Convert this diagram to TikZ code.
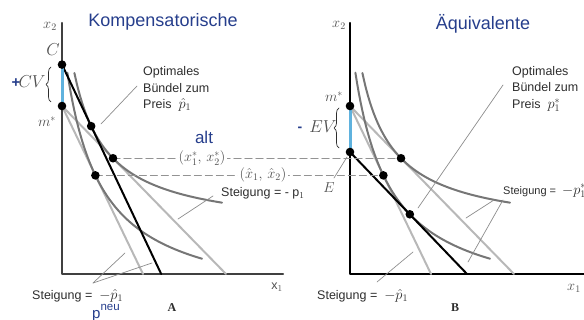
\documentclass[tikz,border=0pt]{standalone}
\usepackage[no-math]{fontspec}
\setmainfont{Liberation Sans}
\newfontfamily\panelfont{Liberation Serif}
\usetikzlibrary{decorations.pathreplacing}

\definecolor{titleblue}{RGB}{38,62,140}
\definecolor{cvblue}{RGB}{95,178,222}
\definecolor{icgray}{RGB}{118,118,118}
\definecolor{bgray}{RGB}{184,184,184}
\definecolor{txtgray}{RGB}{45,45,45}
\definecolor{lblgray}{RGB}{80,80,80}

\newcommand{\pricemath}[1]{{\fontsize{14}{16}\selectfont$#1$}}

\tikzset{
  axis/.style={line width=2.4pt, draw=#1},
  icurve/.style={draw=icgray, line width=2pt},
  budget/.style={draw=bgray, line width=2pt},
  comp/.style={draw=black, line width=2pt},
  cvseg/.style={draw=cvblue, line width=3pt, line cap=butt},
  guide/.style={draw=gray!85, line width=1.1pt, dash pattern=on 7pt off 4pt},
  pointer/.style={draw=gray!90, line width=0.7pt},
  bracket/.style={draw=txtgray, line width=0.7pt, decorate, decoration={brace, amplitude=5pt}},
  title/.style={font=\fontsize{18}{20}\selectfont, text=titleblue, inner sep=0pt},
  caption/.style={font=\fontsize{12.5}{16.5}\selectfont, text=txtgray, align=left, inner sep=0pt, anchor=west},
  mathlbl/.style={font=\fontsize{14}{16}\selectfont, text=lblgray, inner sep=0pt},
  panel/.style={font=\panelfont\bfseries\fontsize{12}{14}\selectfont, text=txtgray, inner sep=0pt},
}

\begin{document}
\begin{tikzpicture}[x=1pt, y=-1pt, line cap=round, line join=round]
\useasboundingbox (0,0) rectangle (584,320);

% Achsen
\draw[axis=black!75] (62,23) -- (62,274) -- (283,274);
\draw[axis=black] (350,23) -- (350,274) -- (584,274);

% A: Kompensatorische Variation
\begin{scope}[shift={(62,274)}, yscale=-1]
  \coordinate (CA) at (0,209.4);
  \coordinate (mA) at (0,168);
  \coordinate (oldA) at (164,0);
  \coordinate (newA) at (81,0);
  \coordinate (compA) at (99.2,0);
  \coordinate (xsA) at (51,115.75);
  \coordinate (xhA) at (33.4,98.6);
  \coordinate (xcA) at (29.17,147.84);
  \draw[budget] (mA) -- (oldA);
  \draw[budget] (mA) -- (newA);
  \draw[icurve] plot[domain=12.4:160, samples=80] (\x, {42+5310/(\x+21)});
  \draw[icurve] plot[domain=5.4:140, samples=80] (\x, {-35+8600/(\x+31)});
  \draw[comp] (CA) -- (compA);
\end{scope}

% B: Aequivalente Variation
\begin{scope}[shift={(350,274)}, yscale=-1]
  \coordinate (mB) at (0,168);
  \coordinate (EB) at (0,122);
  \coordinate (oldB) at (164,0);
  \coordinate (newB) at (81,0);
  \coordinate (equB) at (117,0);
  \coordinate (xsB) at (51,115.75);
  \coordinate (xhB) at (33.4,98.6);
  \coordinate (xeB) at (59.8,59.7);
  \draw[budget] (mB) -- (oldB);
  \draw[budget] (mB) -- (newB);
  \draw[icurve] plot[domain=12.4:160, samples=80] (\x, {42+5310/(\x+21)});
  \draw[icurve] plot[domain=5.4:140, samples=80] (\x, {-35+8600/(\x+31)});
  \draw[comp] (EB) -- (equB);
\end{scope}

\draw[cvseg] (CA) -- (mA);
\draw[cvseg] (mB) -- (EB);

% Hilfslinien
\draw[guide] (xsA) -- (xsB);
\draw[guide] (xhA) -- (xhB);
\node[mathlbl, fill=white, inner xsep=2pt, inner ysep=0pt] (lxs) at (202,158) {$(x_1^*,\, x_2^*)$};
\node[mathlbl, fill=white, inner xsep=2pt, inner ysep=0pt] (lxh) at (263,175) {$(\hat{x}_1,\, \hat{x}_2)$};

\foreach \p in {CA,mA,xsA,xhA,xcA,mB,EB,xsB,xhB,xeB}
  \fill (\p) circle (4.3);

% Titel
\node[title] (tA) at (163,22) {Kompensatorische};
\node[title] (tB) at (483,24) {Äquivalente};
\node[title, font=\fontsize{17}{19}\selectfont] (alt) at (204,137) {alt};
\node[title, font=\fontsize{15}{17}\selectfont, anchor=west] (pneu) at (92,313)
  {p\raisebox{0.5em}{\fontsize{11.5}{12}\selectfont neu}};

% Achsenbeschriftung
\node[mathlbl] (x2A) at (50,26) {$x_2$};
\node[mathlbl] (x2B) at (339,25) {$x_2$};
\node[font=\fontsize{12.5}{14}\selectfont, text=lblgray, inner sep=0pt] (x1A) at (277,287) {x$_1$};
\node[mathlbl] (x1B) at (574,288) {$x_1$};
\node[mathlbl, font=\fontsize{16}{18}\selectfont] (lC) at (53,50) {$C$};
\node[mathlbl] (lmA) at (47,122) {$m^*$};
\node[mathlbl] (lmB) at (334,97) {$m^*$};
\node[mathlbl, font=\fontsize{15}{17}\selectfont] (lE) at (329,188) {$E$};
\draw[pointer] (334,178) -- (347,157);

% CV und EV
\draw[bracket] (51,102) -- (51,67);
\node[font=\bfseries\fontsize{15}{17}\selectfont, text=titleblue, inner sep=0pt] (plus) at (16,83) {+};
\node[mathlbl, font=\fontsize{16}{18}\selectfont] (lCV) at (32,82) {$CV$};
\draw[bracket] (339,148) -- (339,108);
\node[font=\bfseries\fontsize{14}{16}\selectfont, text=titleblue, inner sep=0pt] (minus) at (300,129) {-};
\node[mathlbl, font=\fontsize{16}{18}\selectfont] (lEV) at (323,127) {$EV$};

% Optimale Buendel
\node[caption] (optA) at (143,89) {Optimales\\Bündel zum\\ Preis \ \pricemath{\hat{p}_1}};
\coordinate (optAp) at (101,124);
\draw[pointer] (137,86) -- (optAp);
\node[caption] (optB) at (512,89) {Optimales\\Bündel zum\\Preis \ \pricemath{p_1^*}};
\coordinate (optBp) at (418,208);
\draw[pointer] (503,85) -- (optBp);

% Steigungen
\node[caption] (sA1) at (221,193) {Steigung = - p$_1$};
\coordinate (sA1p) at (178,219);
\draw[pointer] (213,196) -- (sA1p);
\node[caption] (sA2) at (32,296) {Steigung = \ \pricemath{-\hat{p}_1}};
\coordinate (sA2a) at (125,253);
\coordinate (sA2b) at (152,263);
\coordinate (sA2o) at (93,283);
\draw[pointer] (sA2o) -- (sA2a);
\draw[pointer] (sA2o) -- (sA2b);
\node[caption, font=\fontsize{11}{13}\selectfont] (sB1) at (503,191) {Steigung = \ \pricemath{-p_1^*}};
\coordinate (sB1a) at (466,218);
\coordinate (sB1b) at (468,262);
\draw[pointer] (494,200) -- (sB1a);
\draw[pointer] (503,200) -- (sB1b);
\node[caption] (sB2) at (317,296) {Steigung = \ \pricemath{-\hat{p}_1}};
\coordinate (sB2p) at (413,252);
\draw[pointer] (377,282) -- (sB2p);

% Panels
\node[panel] (pA) at (172,308) {A};
\node[panel] (pB) at (455,308) {B};
\end{tikzpicture}
\end{document}
